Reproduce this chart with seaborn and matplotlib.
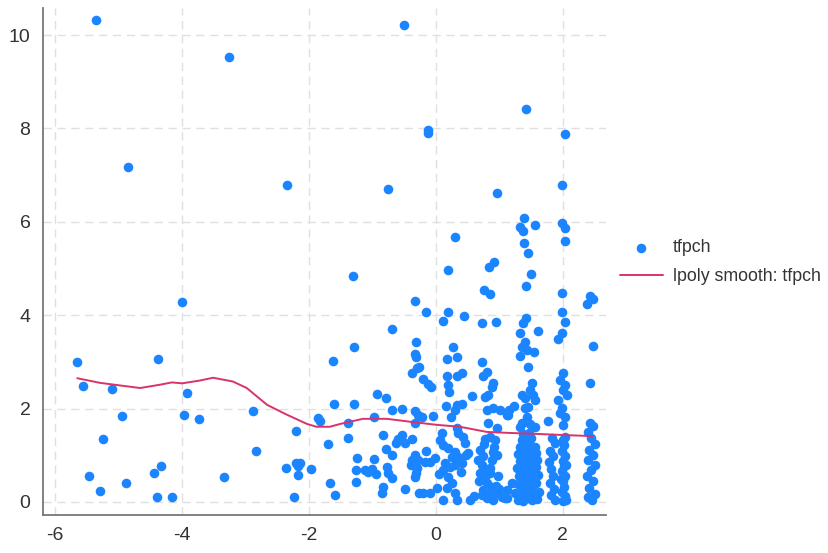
import matplotlib
matplotlib.use("Agg")
import matplotlib.pyplot as plt
import seaborn as sns
import pandas as pd

# ---- data ----
# sparse points (left and upper part)
sparse_x = [-5.35, -3.26, -0.50, -4.85, -2.35, -0.76, -0.13, -0.12, 1.42, 2.03, 0.96, 1.98,
            1.39, 1.32, 1.37, 1.56, 1.98, 2.03, 2.03, 1.39, 1.45, 0.30, 0.19, 0.91, 0.83, 1.50,
            -1.31, -4.00,
            -5.65, -5.56, -5.10, -4.94, -5.24, -5.46, -5.29, -4.88, -4.38, -3.92, -3.97, -3.73,
            -4.44, -4.33, -4.39, -4.16, -3.34, -2.88, -2.83, -2.21, -2.36, -2.21, -2.14, -2.17,
            -2.17, -1.97, -2.24, -1.86, -1.83, -1.70, -1.67]
sparse_y = [10.32, 9.53, 10.21, 7.17, 6.79, 6.70, 7.97, 7.90, 8.42, 7.88, 6.62, 6.79,
            6.08, 5.89, 5.80, 5.93, 5.97, 5.87, 5.59, 5.55, 5.33, 5.67, 4.97, 5.14, 5.03, 4.88,
            4.84, 4.28,
            3.00, 2.48, 2.42, 1.84, 1.35, 0.56, 0.24, 0.41, 3.06, 2.33, 1.86, 1.78,
            0.62, 0.77, 0.11, 0.10, 0.54, 1.95, 1.09, 1.52, 0.73, 0.84, 0.84, 0.58,
            0.77, 0.71, 0.11, 1.80, 1.73, 1.24, 0.41]

# middle cloud, x from -1.7 to 0
mid_x = [-0.33, -0.69, -1.29, -1.62, -0.31, -0.33, -0.31, -0.38, -0.30, -0.93, -0.79, -1.61,
         -1.29, -0.69, -0.54, -0.33, -0.98, -0.33, -1.39, -1.39, -0.83, -0.54, -0.60, -0.49,
         -0.63, -0.38, -0.79, -0.69, -0.33, -0.38, -0.31, -1.24, -0.98, -1.26, -1.12, -1.01,
         -1.07, -1.26, -0.77, -0.76, -0.69, -0.31, -1.59, -0.83, -0.85, -0.49, -0.27,
         -0.16, -0.27, -0.20, -0.13, -0.08, -0.28, -0.22, -0.05, -0.28, -0.17, -0.09, -0.02,
         -0.30, -0.33, -0.20, -0.09, -0.95, -0.15, -0.40]
mid_y = [4.30, 3.70, 3.32, 3.02, 3.43, 3.17, 3.10, 2.76, 2.87, 2.31, 2.23, 2.10,
         2.10, 1.97, 1.99, 1.95, 1.82, 1.69, 1.69, 1.37, 1.43, 1.43, 1.35, 1.26,
         1.26, 1.35, 1.13, 1.01, 1.01, 0.90, 0.75, 0.94, 0.92, 0.69, 0.69, 0.71,
         0.64, 0.43, 0.75, 0.62, 0.51, 0.62, 0.15, 0.32, 0.19, 0.28, 0.19,
         4.07, 2.89, 2.63, 2.53, 2.46, 1.86, 1.82, 1.84, 0.90, 0.86, 0.86, 0.94,
         0.73, 0.54, 0.19, 0.19, 0.60, 1.10, 0.80]

# cloud x from 0 to 1.2
right_x = [0.76, 0.85, 0.19, 0.11, 0.44, 0.72, 0.94, 0.27, 0.33, 0.17, 0.72, 0.80, 0.74,
           0.17, 0.33, 0.41, 0.19, 0.20, 0.90, 0.88, 0.82, 0.77, 0.57, 0.16, 0.33, 0.41,
           0.30, 0.24, 0.80, 0.90, 1.01, 1.12, 1.15, 0.82, 0.96, 0.33, 0.35, 0.43, 0.46,
           0.09, 0.06, 0.11, 0.77, 0.85, 0.93, 0.76, 0.19, 0.30, 0.25, 0.35, 0.50, 0.90,
           0.96, 0.88, 0.14, 0.22, 0.30, 0.41, 0.11, 0.72, 0.69, 0.77, 0.85, 0.19, 0.25,
           0.17, 0.30, 0.80, 0.88, 0.74, 0.96, 1.04, 1.09, 0.80, 0.90, 0.11, 0.33, 0.54,
           0.70, 0.75, 0.92, 0.98, 0.68, 0.86, 0.95, 0.72, 0.84, 1.00, 0.66, 0.78, 1.12,
           0.05, 0.40, 0.47, 0.02, 0.60, 1.20]
right_y = [4.54, 4.45, 4.07, 3.88, 3.98, 3.83, 3.85, 3.32, 3.10, 3.06, 3.00, 2.78, 2.70,
           2.70, 2.70, 2.76, 2.51, 2.36, 2.55, 2.46, 2.29, 2.25, 2.27, 2.06, 2.08, 2.10,
           1.97, 1.82, 1.97, 2.01, 1.97, 1.86, 1.97, 1.69, 1.58, 1.58, 1.48, 1.39, 1.26,
           1.48, 1.33, 1.22, 1.35, 1.39, 1.33, 1.24, 1.16, 1.07, 0.96, 0.96, 1.05, 1.07,
           1.01, 0.90, 0.84, 0.75, 0.79, 0.84, 0.69, 0.79, 0.62, 0.54, 0.73, 0.54, 0.41,
           0.30, 0.19, 0.41, 0.32, 0.26, 0.19, 0.11, 0.09, 0.09, 0.04, 0.04, 0.04, 0.04,
           1.12, 0.98, 1.18, 0.55, 0.45, 0.62, 0.35, 0.15, 0.20, 0.28, 0.90, 0.68, 0.25,
           0.60, 0.65, 1.00, 0.30, 0.12, 0.40]

# columns around x = 1.2 .. 2.5
col_x = [1.42, 1.98, 2.43, 2.47, 2.38, 1.98, 2.03, 1.42, 1.37, 1.32, 1.61, 1.98, 1.92, 2.47,
         1.40, 1.35, 1.43, 1.32, 1.54, 1.45, 2.00, 1.95, 2.03, 2.00, 2.06, 2.43,
         1.51, 1.48, 1.53, 1.35, 1.40, 1.56, 1.45, 1.40, 1.23, 1.13,
         1.92, 1.98, 1.95, 2.03, 2.00, 1.76, 1.43, 1.35, 1.48, 1.56, 1.32,
         2.43, 2.47, 2.39, 1.83, 1.87, 1.24, 1.12,
         1.30, 1.38, 1.45, 1.52, 1.60, 1.33, 1.41, 1.48, 1.56, 1.62,
         1.29, 1.36, 1.44, 1.51, 1.58, 1.31, 1.39, 1.47, 1.55, 1.61,
         1.28, 1.35, 1.43, 1.50, 1.57, 1.32, 1.40, 1.46, 1.53, 1.60,
         1.30, 1.37, 1.44, 1.52, 1.58, 1.33, 1.41, 1.49, 1.56,
         1.35, 1.43, 1.50, 1.38, 1.47,
         1.80, 1.78, 1.82, 1.85, 1.80, 1.86, 1.82, 1.88, 1.84,
         2.00, 2.03, 1.98, 2.02, 2.00, 2.04, 1.99, 2.02, 2.00, 2.03, 1.98, 2.02, 2.00, 2.04,
         2.05, 1.97, 2.05,
         2.45, 2.50, 2.42, 2.47, 2.40, 2.50, 2.44, 2.38, 2.48, 2.41, 2.50, 2.40, 2.46]
col_y = [4.63, 4.47, 4.41, 4.35, 4.24, 4.07, 3.85, 3.94, 3.83, 3.62, 3.66, 3.62, 3.49, 3.34,
         3.43, 3.32, 3.25, 3.13, 3.21, 2.89, 2.76, 2.61, 2.51, 2.40, 2.29, 2.55,
         2.55, 2.40, 2.29, 2.29, 2.23, 2.18, 2.03, 2.01, 2.06, 1.86,
         2.18, 2.01, 1.90, 1.82, 1.65, 1.73, 1.82, 1.69, 1.67, 1.61, 1.61,
         1.69, 1.63, 1.50, 1.37, 1.26, 0.19, 0.09,
         0.05, 0.02, 0.08, 0.04, 0.06, 0.20, 0.18, 0.25, 0.15, 0.22,
         0.38, 0.35, 0.42, 0.33, 0.40, 0.55, 0.52, 0.60, 0.50, 0.58,
         0.72, 0.70, 0.76, 0.68, 0.74, 0.88, 0.85, 0.92, 0.86, 0.90,
         1.03, 1.00, 1.07, 1.02, 1.05, 1.18, 1.15, 1.22, 1.17,
         1.32, 1.30, 1.36, 1.45, 1.48,
         1.10, 0.85, 0.70, 0.55, 0.40, 0.28, 0.15, 0.05, 0.98,
         0.02, 0.12, 0.22, 0.33, 0.44, 0.55, 0.66, 0.77, 0.88, 0.99, 1.10, 1.21, 1.32, 1.40,
         0.05, 0.50, 0.80,
         1.38, 1.25, 1.12, 1.00, 0.90, 0.80, 0.68, 0.55, 0.45, 0.30, 0.18, 0.10, 0.05]

# lpoly smooth curve
smooth_x = [-5.65, -5.29, -4.66, -4.35, -4.16, -4.00, -3.72, -3.51, -3.20, -2.98, -2.66,
            -2.35, -2.03, -1.88, -1.67, -1.51, -1.15, -0.77, -0.36, 0.02, 0.38, 0.80,
            1.12, 1.53, 2.06, 2.47]
smooth_y = [2.65, 2.55, 2.44, 2.51, 2.56, 2.54, 2.60, 2.66, 2.58, 2.44, 2.08,
            1.87, 1.67, 1.61, 1.61, 1.67, 1.78, 1.78, 1.71, 1.65, 1.61, 1.50,
            1.48, 1.46, 1.43, 1.41]

x_ticks = [-6, -4, -2, 0, 2]
y_ticks = [0, 2, 4, 6, 8, 10]

# ---- build frames ----
pts = pd.DataFrame({
    "x": sparse_x + mid_x + right_x + col_x,
    "tfpch": sparse_y + mid_y + right_y + col_y,
})
smooth = pd.DataFrame({"x": smooth_x, "tfpch": smooth_y})

sns.set_theme(style="white")
plt.rcParams["font.family"] = ["Liberation Sans", "DejaVu Sans"]

BLUE = "#1a85ff"
RED = "#d9336c"
AXC = "#777777"

fig = plt.figure(figsize=(8.29, 5.53), dpi=100)
ax = fig.add_axes([43 / 829, 1 - 515 / 553, (606 - 43) / 829, (515 - 8) / 553])

sns.scatterplot(data=pts, x="x", y="tfpch", ax=ax, color=BLUE, s=48,
                linewidth=0, label="tfpch", zorder=3)
sns.lineplot(data=smooth, x="x", y="tfpch", ax=ax, color=RED, linewidth=1.4,
             sort=False, estimator=None, label="lpoly smooth: tfpch", zorder=4)

ax.set_xlim(-6.19, 2.68)
ax.set_ylim(-0.28, 10.58)
ax.set_xticks(x_ticks)
ax.set_yticks(y_ticks)
ax.set_xticklabels([str(v) for v in x_ticks])
ax.set_yticklabels([str(v) for v in y_ticks])
ax.set_xlabel("")
ax.set_ylabel("")

ax.grid(True, color="#e0e0e0", linestyle=(0, (6, 4)), linewidth=1.0)
ax.set_axisbelow(True)
for side in ["top", "right"]:
    ax.spines[side].set_visible(False)
for side in ["left", "bottom"]:
    ax.spines[side].set_color(AXC)
    ax.spines[side].set_linewidth(1.3)
ax.tick_params(axis="both", direction="out", length=5, width=1.0, color=AXC,
               labelsize=14, labelcolor="#333333", pad=4)

leg = ax.legend(loc="center left", bbox_to_anchor=(613 / 829, 1 - 262 / 553),
                bbox_transform=fig.transFigure, frameon=False, fontsize=12.8,
                handlelength=2.4, handletextpad=0.55, labelspacing=0.65,
                borderaxespad=0)
for t in leg.get_texts():
    t.set_color("#333333")

fig.savefig("out.png", dpi=100)
